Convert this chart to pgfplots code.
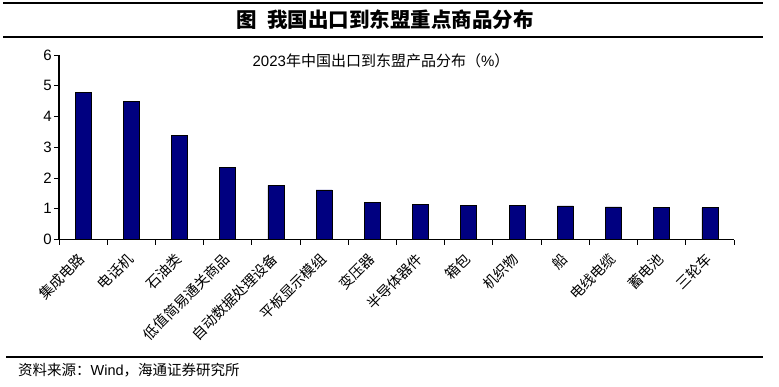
\documentclass[border=0pt]{standalone}
\usepackage{fontspec}
\setmainfont{Liberation Sans}
\newfontfamily\cjk{Noto Sans CJK SC}
\newfontfamily\cjkblack{Noto Sans CJK SC Black}
\usepackage{pgfplots}
\pgfplotsset{compat=1.18}
\definecolor{barnavy}{RGB}{0,0,128}
\begin{document}
\begin{tikzpicture}
\path[use as bounding box] (0pt,0pt) rectangle (779pt,386pt);
\draw[line width=1.5pt] (3pt,383pt) -- (763pt,383pt);
\draw[line width=1.5pt] (3pt,349pt) -- (763pt,349pt);
\node[font=\cjkblack\fontsize{20.5}{20.5}\selectfont] at (385pt,366pt) {图\hspace{0.5em}我国出口到东盟重点商品分布};
\begin{axis}[
  at={(59pt,146.5pt)}, anchor=south west,
  scale only axis, width=675pt, height=184.5pt,
  xmin=0, xmax=14, ymin=0, ymax=6,
  axis x line=bottom, axis y line=left,
  axis line style={-, line width=1.2pt},
  tick align=outside,
  major tick length=5pt, minor tick length=5pt,
  xtick={0.5,1.5,...,13.5},
  minor xtick={0,1,...,14},
  major x tick style={draw=none},
  tick style={line width=1pt, black},
  xticklabels={集成电路,电话机,石油类,低值简易通关商品,自动数据处理设备,平板显示模组,变压器,半导体器件,箱包,机织物,船,电线电缆,蓄电池,三轮车},
  xticklabel style={font=\cjk\fontsize{14.3}{14.3}\selectfont, rotate=45, anchor=east, inner sep=1pt},
  xticklabel shift=11pt,
  ytick={0,1,...,6},
  yticklabel style={font=\fontsize{15}{15}\selectfont, inner sep=2pt},
  /pgf/number format/assume math mode=true,
  clip=false,
]
\addplot[ybar, bar width=16pt, fill=barnavy, draw=black, line width=0.8pt] coordinates {
(0.5,4.79) (1.5,4.50) (2.5,3.37) (3.5,2.33) (4.5,1.76) (5.5,1.61) (6.5,1.20)
(7.5,1.15) (8.5,1.10) (9.5,1.10) (10.5,1.09) (11.5,1.06) (12.5,1.05) (13.5,1.03)};
\end{axis}
\node[font=\fontsize{15}{15}\selectfont] at (381pt,325pt) {2023{\cjk 年中国出口到东盟产品分布（}\%{\cjk ）}};
\draw[line width=1.5pt] (6pt,29pt) -- (763pt,29pt);
\node[anchor=west, font=\fontsize{14.5}{14.5}\selectfont, inner sep=0pt] at (18pt,16pt) {{\cjk 资料来源：}Wind{\cjk ，海通证券研究所}};
\end{tikzpicture}
\end{document}
